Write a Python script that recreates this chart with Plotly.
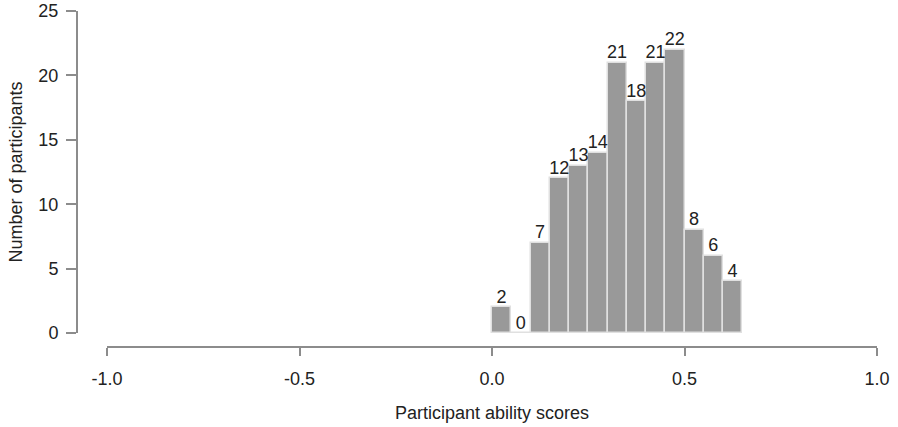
import plotly.graph_objects as go

bin_left = [0.00, 0.05, 0.10, 0.15, 0.20, 0.25, 0.30, 0.35, 0.40, 0.45, 0.50, 0.55, 0.60]
bin_width = 0.05
counts = [2, 0, 7, 12, 13, 14, 21, 18, 21, 22, 8, 6, 4]
x_ticks = [-1.0, -0.5, 0.0, 0.5, 1.0]
x_tick_labels = ["-1.0", "-0.5", "0.0", "0.5", "1.0"]
y_ticks = [0, 5, 10, 15, 20, 25]

centers = [b + bin_width / 2 for b in bin_left]

W, H = 898, 427
ml, mr, mt, mb = 77, 21, 11, 80
pw = W - ml - mr
ph = H - mt - mb

FONT = "Liberation Sans, Arial, Helvetica, sans-serif"
FS = 18
AX = "#8c8c8c"

fig = go.Figure()
fig.add_trace(go.Bar(
    x=centers, y=counts, width=[bin_width] * len(counts),
    marker=dict(color="#999999", line=dict(color="#e0e0e0", width=1.5)),
    hoverinfo="skip", showlegend=False,
))
fig.add_trace(go.Scatter(
    x=centers, y=counts, mode="text", text=[str(c) for c in counts],
    textposition="top center",
    textfont=dict(family=FONT, size=FS, color="#222222"),
    hoverinfo="skip", showlegend=False, cliponaxis=False,
))

axis_font = dict(family=FONT, size=FS, color="#222222")
fig.update_layout(
    width=W, height=H,
    margin=dict(l=ml, r=mr, t=mt, b=mb, pad=0, autoexpand=False),
    paper_bgcolor="white", plot_bgcolor="white",
    bargap=0,
    font=axis_font,
    xaxis=dict(
        domain=[30 / pw, 1], range=[-1, 1],
        tickvals=x_ticks, ticktext=x_tick_labels,
        tickfont=axis_font,
        ticks="outside", ticklen=8, tickwidth=2, tickcolor=AX,
        showline=True, linecolor=AX, linewidth=2,
        showgrid=False, zeroline=False,
        anchor="free", position=0, automargin=False,
        ticklabelstandoff=7,
        title=dict(text="Participant ability scores", font=axis_font, standoff=18),
    ),
    yaxis=dict(
        domain=[14 / ph, 1], range=[0, 25],
        tickvals=y_ticks,
        tickfont=axis_font,
        ticks="outside", ticklen=10, tickwidth=2, tickcolor=AX,
        showline=True, linecolor=AX, linewidth=2,
        showgrid=False, zeroline=False,
        anchor="free", position=0, automargin=False,
        ticklabelstandoff=4,
        title=dict(text="Number of participants", font=axis_font, standoff=10),
    ),
)

fig.write_html(
    "out.html",
    config={"displayModeBar": False},
    post_script="document.body.style.margin='0';document.body.style.overflow='hidden';",
)
